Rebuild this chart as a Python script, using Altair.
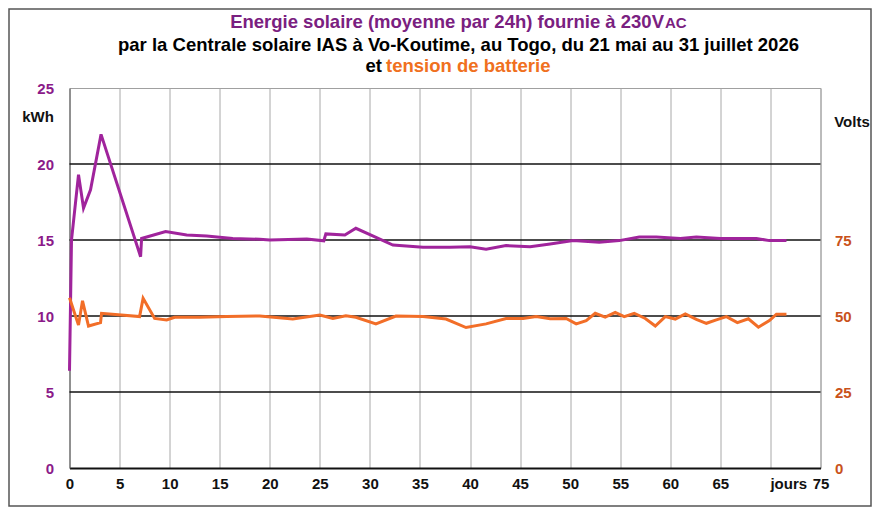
import altair as alt
import pandas as pd

# Energy (kWh per 24h) series
kwh_days = [0, 0.2, 0.9, 1.4, 2.1, 3.15, 7.1, 7.2, 9.6, 11.7, 13.7, 16.3, 19, 20, 23.7, 25.4,
            25.6, 27.5, 28.6, 30.5, 32.3, 35.3, 38, 40, 41.6, 43.6, 46, 48, 50.3, 52.9,
            54.9, 56.9, 58.6, 61, 62.6, 65, 68.6, 69.9, 71.6]
kwh_vals = [6.4, 15.0, 19.3, 17.1, 18.3, 21.95, 13.9, 15.1, 15.55, 15.33, 15.26, 15.1, 15.05,
            15.0, 15.07, 14.95, 15.4, 15.33, 15.77, 15.2, 14.67, 14.52, 14.52, 14.56, 14.4,
            14.63, 14.56, 14.74, 14.96, 14.85, 14.96, 15.2, 15.2, 15.1, 15.2, 15.1, 15.1,
            14.96, 14.96]

# Battery voltage series
volt_days = [0, 0.9, 1.3, 1.9, 3.1, 3.2, 7.0, 7.35, 8.5, 9.7, 10.5, 13, 15.7, 19, 22.3, 25,
             26.3, 27.6, 28.6, 30.6, 32.6, 35.3, 37.6, 39.6, 41.6, 43.6, 45.3, 46.6, 48,
             49.6, 50.6, 51.6, 52.5, 53.5, 54.5, 55.4, 56.4, 57.5, 58.5, 59.5, 60.5, 61.5,
             62.6, 63.6, 64.6, 65.6, 66.7, 67.8, 68.8, 69.9, 70.6, 71.6]
volt_vals = [56, 47, 55, 46.7, 47.8, 50.9, 49.8, 55.8, 49.2, 48.7, 49.6, 49.6, 49.8, 50, 49,
             50.3, 49.2, 50.1, 49.6, 47.4, 50, 49.8, 49, 46.2, 47.4, 49.2, 49.2, 49.8, 49.1,
             49.2, 47.4, 48.5, 50.9, 49.6, 51.2, 49.8, 50.9, 49.2, 46.7, 49.8, 49, 50.7,
             48.9, 47.6, 48.7, 49.8, 47.8, 49.1, 46.3, 48.5, 50.6, 50.6]

x_ticks = list(range(0, 80, 5))
kwh_ticks = [0, 5, 10, 15, 20, 25]
kwh_grid = [5, 10, 15, 20]
volt_ticks = [0, 25, 50, 75]

FONT = "Liberation Sans"
PURPLE_LINE = "#A0249C"
ORANGE_LINE = "#F26E28"
PURPLE_LBL = "#8B1A89"
ORANGE_LBL = "#C9521A"
TS = 18.5

W, H = 751, 380

kdf = pd.DataFrame({"jour": kwh_days, "kwh": kwh_vals})
vdf = pd.DataFrame({"jour": volt_days, "volt": volt_vals})
gdf = pd.DataFrame({"kwh": kwh_grid})
one = pd.DataFrame({"a": [0]})
jdf = pd.DataFrame({"jour": [70], "t": ["jours"]})

xscale = alt.Scale(domain=[0, 75], nice=False, zero=False)
xaxis = alt.Axis(values=x_ticks, grid=True, gridColor="#A8A8A8", gridWidth=1,
                 ticks=False, domainColor="#111111", domainWidth=2,
                 labelFont=FONT, labelFontSize=15, labelFontWeight="bold",
                 labelColor="#111111", labelPadding=8, title=None,
                 labelFlush=False, labelOverlap=False,
                 labelExpr="datum.value == 70 ? '' : datum.label")
kscale = alt.Scale(domain=[0, 25], nice=False)
kaxis = alt.Axis(values=kwh_ticks, grid=False, ticks=False, domainColor="#666666",
                 domainWidth=1, labelFont=FONT, labelFontSize=15, labelFontWeight="bold",
                 labelColor=PURPLE_LBL, labelPadding=16, labelFlush=False,
                 title="kWh", titleAngle=0, titleFont=FONT, titleFontSize=15,
                 titleFontWeight="bold", titleColor="#111111", titleX=-32, titleY=28,
                 titleAlign="center", titleBaseline="middle")
vscale = alt.Scale(domain=[0, 125], nice=False)
vaxis = alt.Axis(values=volt_ticks, grid=False, ticks=False, domain=False,
                 labelFont=FONT, labelFontSize=15, labelFontWeight="bold",
                 labelColor=ORANGE_LBL, labelPadding=14, labelFlush=False,
                 title="Volts", titleAngle=0, titleFont=FONT, titleFontSize=15,
                 titleFontWeight="bold", titleColor="#111111", titleX=31, titleY=33,
                 titleAlign="center", titleBaseline="middle")

purple = alt.Chart(kdf).mark_line(color=PURPLE_LINE, strokeWidth=3).encode(
    x=alt.X("jour:Q", scale=xscale, axis=xaxis),
    y=alt.Y("kwh:Q", scale=kscale, axis=kaxis))

hgrid = alt.Chart(gdf).mark_rule(color="#111111", strokeWidth=1.3).encode(
    y=alt.Y("kwh:Q", scale=kscale, axis=kaxis))

jours = alt.Chart(jdf).mark_text(font=FONT, fontSize=15, fontWeight="bold",
                                 color="#111111", align="left", baseline="middle").encode(
    x=alt.X("jour:Q", scale=xscale, axis=xaxis), y=alt.value(H + 16), text="t:N")

left = alt.layer(hgrid, purple, jours)

orange = alt.Chart(vdf).mark_line(color=ORANGE_LINE, strokeWidth=3).encode(
    x=alt.X("jour:Q", scale=xscale, axis=xaxis),
    y=alt.Y("volt:Q", scale=vscale, axis=vaxis))

def txt(s, x, y, color, size=TS, align="center"):
    return alt.Chart(one).mark_text(text=s, font=FONT, fontSize=size, fontWeight="bold",
                                    color=color, align=align, baseline="middle").encode(
        x=alt.value(x), y=alt.value(y))

titles = [
    txt("Energie solaire (moyenne par 24h) fournie à 230V", 594.5, -66, "#7A2080", TS, "right"),
    txt("AC", 595.5, -65, "#7A2080", 15, "left"),
    txt("par la Centrale solaire IAS à Vo-Koutime, au Togo, du 21 mai au 31 juillet 2026",
        389, -43, "#000000", TS, "center"),
    txt("et", 312.5, -22, "#000000", TS, "right"),
    txt("tension de batterie", 316.5, -22, "#F07020", TS, "left"),
]

frame = alt.Chart(one).mark_rect(fill=None, stroke="#555555", strokeWidth=1.5).encode(
    x=alt.value(-60.5), x2=alt.value(801.5), y=alt.value(-79), y2=alt.value(418))

chart = alt.layer(left, orange).resolve_scale(y="independent")
chart = alt.layer(chart, frame, *titles).properties(
    width=W, height=H,
    autosize=alt.AutoSizeParams(type="none"),
    padding={"left": 61.5, "top": 80, "right": 51.5, "bottom": 39},
    background="white",
).configure_view(stroke="#A0A0A0", strokeWidth=1)

chart.save("out.html", embed_options={"renderer": "svg", "actions": False})
